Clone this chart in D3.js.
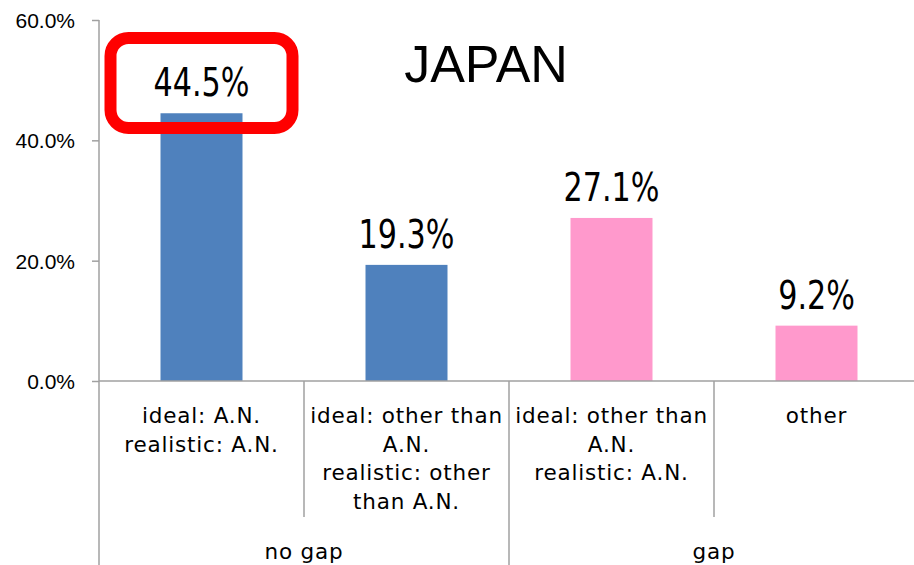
<!DOCTYPE html>
<html>
<head>
    <meta charset="utf-8">
    <title>JAPAN</title>
    <style type="text/css">
        body { margin: 0; background: #fff; }
        svg text { fill: #000; }
        .tick-label { font-family: "Liberation Sans", Arial, sans-serif; font-size: 21px; }
        .value-label { font-family: "Liberation Sans Narrow", "DejaVu Sans Condensed", sans-serif; font-size: 39px; }
        .cat-label { font-family: "DejaVu Sans", sans-serif; font-size: 21.5px; letter-spacing: 0.8px; }
        .title { font-family: "Liberation Sans", Arial, sans-serif; font-size: 52px; }
    </style>
</head>
<body>
<script src="https://d3js.org/d3.v7.min.js" type="text/javascript"></script>
<script type="text/javascript">

    // data
    var categories = ['c1', 'c2', 'c3', 'c4'];
    var catLabels = [
        ['ideal: A.N.', 'realistic: A.N.'],
        ['ideal: other than', 'A.N.', 'realistic: other', 'than A.N.'],
        ['ideal: other than', 'A.N.', 'realistic: A.N.'],
        ['other']
    ];
    var values = [0.445, 0.193, 0.271, 0.092];
    var groups = ['no gap', 'no gap', 'gap', 'gap'];
    var groupNames = ['no gap', 'gap'];
    var yTicks = [0, 0.2, 0.4, 0.6];
    var colors = { 'no gap': '#4f81bd', 'gap': '#ff99cc' };

    var W = 914, H = 565;
    var plotL = 99, plotR = 919, plotT = 20, plotB = 381;
    var axisColor = '#a0a0a0';

    var svg = d3.select('body').append('svg')
        .attr('width', W)
        .attr('height', H);

    var x = d3.scaleBand().domain(categories).range([plotL, plotR]);
    var y = d3.scaleLinear().domain([0, 0.6]).range([plotB, plotT]);
    var bw = x.bandwidth() * 0.4;

    // y axis
    var yAxis = svg.append('g')
        .attr('transform', 'translate(' + plotL + ',0)')
        .call(d3.axisLeft(y).tickValues(yTicks).tickFormat(d3.format('.1%')).tickSizeInner(7).tickSizeOuter(0).tickPadding(17));
    yAxis.select('.domain').remove();
    yAxis.selectAll('.tick line').attr('stroke', axisColor).attr('stroke-width', 1.5);
    yAxis.selectAll('.tick text')
        .attr('class', 'tick-label')
        .attr('fill', '#000')
        .attr('dy', '0.36em');
    yAxis.attr('font-family', null).attr('font-size', null);

    // left axis line, goes all the way down through the category rows
    svg.append('line')
        .attr('x1', plotL).attr('x2', plotL)
        .attr('y1', plotT).attr('y2', H)
        .attr('stroke', axisColor).attr('stroke-width', 1.5);

    // bars
    svg.selectAll('rect.bar')
        .data(categories)
        .enter().append('rect')
        .attr('class', 'bar')
        .attr('x', function (d) { return x(d) + (x.bandwidth() - bw) / 2; })
        .attr('y', function (d, i) { return y(values[i]); })
        .attr('width', bw)
        .attr('height', function (d, i) { return y(0) - y(values[i]); })
        .attr('fill', function (d, i) { return colors[groups[i]]; });

    // horizontal axis
    svg.append('line')
        .attr('x1', plotL).attr('x2', W)
        .attr('y1', plotB).attr('y2', plotB)
        .attr('stroke', axisColor).attr('stroke-width', 1.5);

    // dividers between categories
    categories.forEach(function (c, i) {
        if (i === 0) return;
        var isGroupEdge = groups[i] !== groups[i - 1];
        svg.append('line')
            .attr('x1', x(c)).attr('x2', x(c))
            .attr('y1', plotB).attr('y2', isGroupEdge ? H : 517)
            .attr('stroke', axisColor).attr('stroke-width', 1.5);
    });

    // value labels (squeezed a bit, the original font is tall and narrow)
    svg.selectAll('text.value-label')
        .data(categories)
        .enter().append('text')
        .attr('class', 'value-label')
        .attr('text-anchor', 'middle')
        .attr('transform', function (d, i) {
            return 'translate(' + (x(d) + x.bandwidth() / 2) + ',' + (y(values[i]) - 17) + ') scale(0.86,1)';
        })
        .text(function (d, i) { return d3.format('.1%')(values[i]); });

    // category labels
    categories.forEach(function (c, i) {
        var t = svg.append('text')
            .attr('class', 'cat-label')
            .attr('text-anchor', 'middle');
        catLabels[i].forEach(function (line, j) {
            t.append('tspan')
                .attr('x', x(c) + x.bandwidth() / 2)
                .attr('y', 423 + j * 28.7)
                .text(line);
        });
    });

    // group labels
    groupNames.forEach(function (g) {
        var members = categories.filter(function (c, i) { return groups[i] === g; });
        var x0 = x(members[0]);
        var x1 = x(members[members.length - 1]) + x.bandwidth();
        svg.append('text')
            .attr('class', 'cat-label')
            .attr('text-anchor', 'middle')
            .attr('x', (x0 + x1) / 2)
            .attr('y', 559)
            .text(g);
    });

    // title
    svg.append('text')
        .attr('class', 'title')
        .attr('text-anchor', 'middle')
        .attr('x', 486)
        .attr('y', 82)
        .text('JAPAN');

    // red highlight box around the first value
    var cx = x(categories[0]) + x.bandwidth() / 2;
    svg.append('rect')
        .attr('x', cx - 91)
        .attr('y', 38)
        .attr('width', 182)
        .attr('height', 90)
        .attr('rx', 18)
        .attr('fill', 'none')
        .attr('stroke', '#ff0000')
        .attr('stroke-width', 12);

</script>
</body>
</html>
